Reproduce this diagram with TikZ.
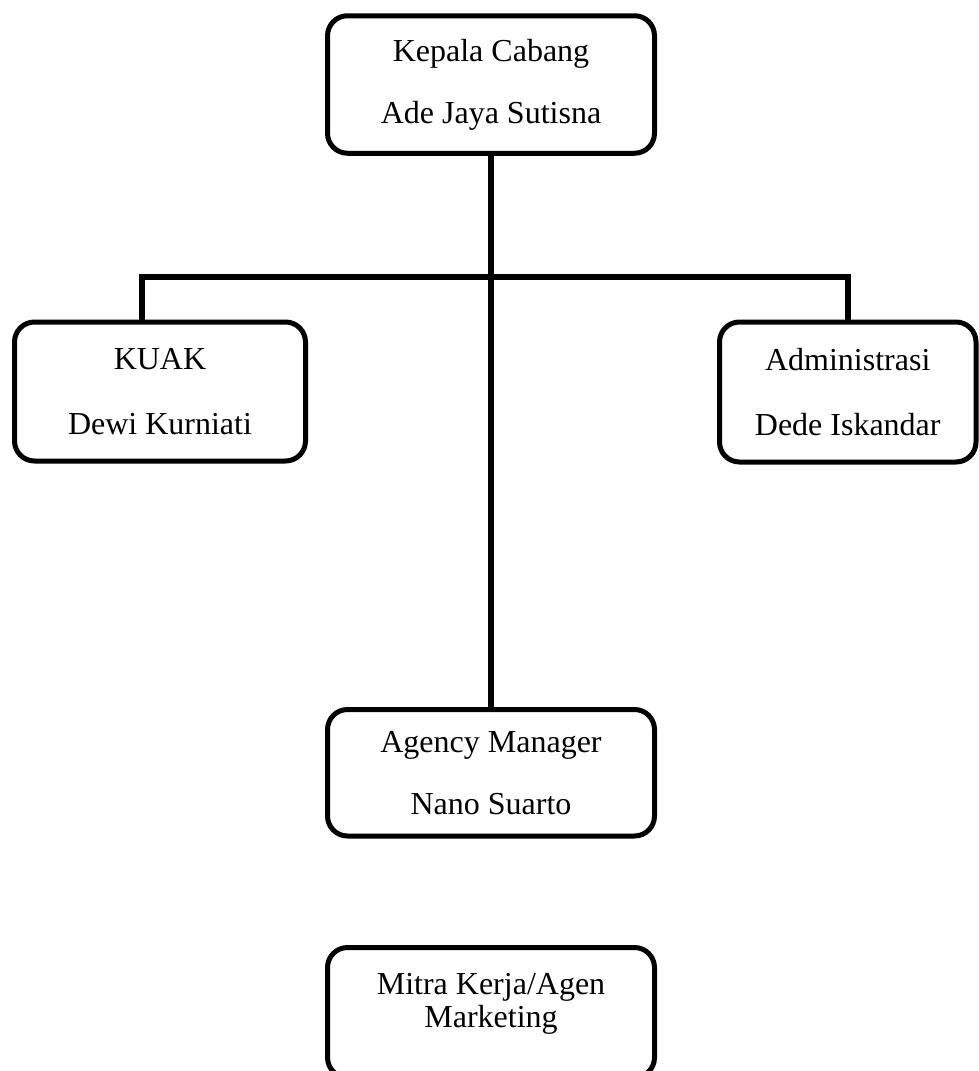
\documentclass[tikz,border=0pt]{standalone}
\usepackage{fontspec}
\setmainfont{Liberation Serif}
\usetikzlibrary{positioning}
\tikzset{
  unitbox/.style = {align=center, draw, rounded corners=10pt, line width=2.5pt, inner sep=0pt,
  text centered, font=\fontsize{16}{31}\selectfont},
  unit_c/.style = {unitbox, minimum width=163.5pt},
  unit_s/.style = {unitbox, font=\fontsize{16}{32.5}\selectfont}
}

\begin{document}
\begin{tikzpicture}[x=0.5pt,y=-0.5pt,
        	link/.style={line width=2.8pt, line join=miter},
        	label_txt/.style={align=center, inner sep=0pt, font=\fontsize{16}{16.5}\selectfont}]
            \clip (0,0) rectangle (979,1071);
            \node [unit_c, minimum height=68.75pt] (kacab) at (491,84.5) {Kepala Cabang\\Ade Jaya Sutisna};
            \node [unit_s, minimum width=145.5pt, minimum height=69.5pt] (kuak) at (160,391.5) {KUAK\\Dewi Kurniati};
            \node [unit_s, minimum width=128.25pt, minimum height=70pt] (admin) at (847.75,392) {Administrasi\\Dede Iskandar};
            \node [unit_c, minimum height=63.25pt] (agency) at (491,772.75) {Agency Manager\\Nano Suarto};
            \node [unit_c, minimum height=65pt] (mitra) at (491,1012.5) {};
            \node [label_txt] (mitra_txt) at (491,1004) {Mitra Kerja/Agen\\Marketing};
            \coordinate (barL) at (142,277);
            \coordinate (barR) at (847.75,277);
            \draw [link] (kacab.south) -- (agency.north);
            \draw [link] (barL |- kuak.north) -- (barL) -- (barR) -- (admin.north);
        \end{tikzpicture}
\end{document}
